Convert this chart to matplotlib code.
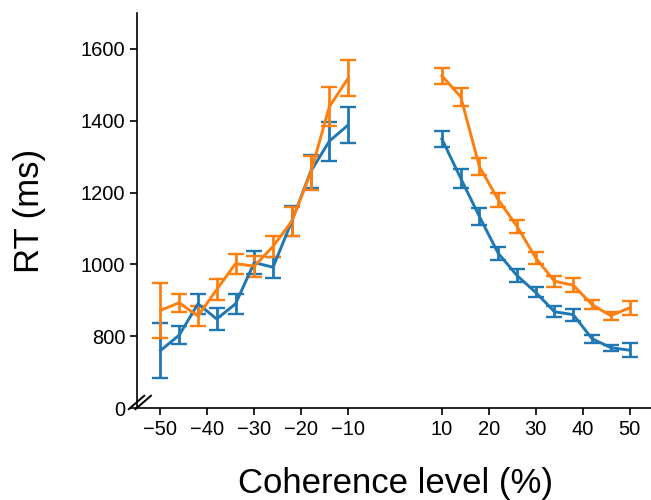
import numpy as np
import matplotlib
matplotlib.use('Agg')
import matplotlib.pyplot as plt

plt.rcParams['font.family'] = ['Liberation Sans', 'DejaVu Sans']

# coherence levels (negative = leftward motion)
coh_neg = [-50, -46, -42, -38, -34, -30, -26, -22, -18, -14, -10]
coh_pos = [10, 14, 18, 22, 26, 30, 34, 38, 42, 46, 50]

# mean RT and SEM, condition A (blue)
rt_a_neg = [760, 803, 890, 848, 890, 1005, 992, 1120, 1258, 1343, 1388]
err_a_neg = [77, 26, 28, 30, 28, 32, 29, 42, 46, 54, 49]
rt_a_pos = [1349, 1240, 1133, 1031, 969, 922, 868, 860, 793, 768, 761]
err_a_pos = [23, 26, 23, 18, 18, 14, 15, 17, 11, 8, 19]

# mean RT and SEM, condition B (orange)
rt_b_neg = [872, 893, 856, 930, 1002, 995, 1050, 1120, 1254, 1439, 1518]
err_b_neg = [77, 25, 27, 29, 28, 29, 30, 40, 48, 54, 50]
rt_b_pos = [1525, 1467, 1272, 1180, 1106, 1018, 953, 942, 888, 857, 879]
err_b_pos = [23, 25, 24, 19, 18, 17, 15, 19, 13, 11, 20]

yticks = [600, 800, 1000, 1200, 1400, 1600]
ytick_labels = ['0', '800', '1000', '1200', '1400', '1600']
xticks = [-50, -40, -30, -20, -10, 10, 20, 30, 40, 50]

fig = plt.figure(figsize=(6.51, 5.0), dpi=100)
ax = fig.add_axes([137 / 651, 92 / 500, 516 / 651, 395 / 500])

style = dict(lw=2.1, elinewidth=2, capsize=5.5, capthick=1.7)
for x, y, e in [(coh_neg, rt_a_neg, err_a_neg), (coh_pos, rt_a_pos, err_a_pos)]:
    ax.errorbar(x, y, yerr=e, color='#1f77b4', **style)
for x, y, e in [(coh_neg, rt_b_neg, err_b_neg), (coh_pos, rt_b_pos, err_b_pos)]:
    ax.errorbar(x, y, yerr=e, color='#ff7f0e', **style)

ax.set_xlim(-55, 55)
ax.set_ylim(600, 1700)
ax.set_xticks(xticks)
ax.set_xticklabels([str(t).replace('-', '\u2212') for t in xticks])
ax.set_yticks(yticks)
ax.set_yticklabels(ytick_labels)

for side in ['top', 'right']:
    ax.spines[side].set_visible(False)
for side in ['left', 'bottom']:
    ax.spines[side].set_linewidth(1.2)
ax.tick_params(axis='both', labelsize=14.5, length=5, width=1.2, direction='out')

ax.set_xlabel('Coherence level (%)', fontsize=25, labelpad=20)
ax.set_ylabel('RT (ms)', fontsize=25, labelpad=25)

# axis break marks at the bottom of the y axis
dx, dy = 0.03, 0.034
for off in [0.0, 0.013]:
    ax.plot([-0.016 + off, -0.016 + off + dx], [-0.003, -0.003 + dy],
            transform=ax.transAxes, color='k', lw=1.4, clip_on=False)

fig.savefig('out.png', dpi=100)
